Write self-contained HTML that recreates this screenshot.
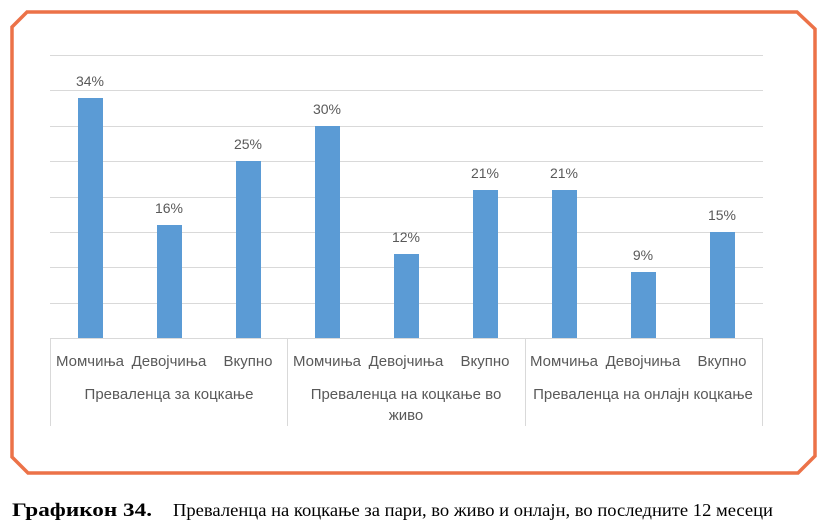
<!DOCTYPE html>
<html><head><meta charset="utf-8"><style>
html,body{margin:0;padding:0;background:#fff;}
svg{display:block;}
</style></head><body>
<svg width="826" height="529" viewBox="0 0 826 529" xmlns="http://www.w3.org/2000/svg">
<polygon points="27,12 797,12 815,29 815,456 798,473 28,473 12,457 12,27" fill="#fff" stroke="#EC7248" stroke-width="3.5"/>
<g stroke="#d9d9d9" stroke-width="1">
<line x1="50" x2="763" y1="55.5" y2="55.5"/>
<line x1="50" x2="763" y1="90.5" y2="90.5"/>
<line x1="50" x2="763" y1="126.5" y2="126.5"/>
<line x1="50" x2="763" y1="161.5" y2="161.5"/>
<line x1="50" x2="763" y1="197.5" y2="197.5"/>
<line x1="50" x2="763" y1="232.5" y2="232.5"/>
<line x1="50" x2="763" y1="267.5" y2="267.5"/>
<line x1="50" x2="763" y1="303.5" y2="303.5"/>
<line x1="50" x2="763" y1="338.5" y2="338.5"/>
<line x1="50.5" x2="50.5" y1="338" y2="426"/>
<line x1="287.5" x2="287.5" y1="338" y2="426"/>
<line x1="525.5" x2="525.5" y1="338" y2="426"/>
<line x1="762.5" x2="762.5" y1="338" y2="426"/>
</g>
<g fill="#5B9BD5">
<rect x="78" y="98" width="25" height="240"/>
<rect x="157" y="225" width="25" height="113"/>
<rect x="236" y="161" width="25" height="177"/>
<rect x="315" y="126" width="25" height="212"/>
<rect x="394" y="254" width="25" height="84"/>
<rect x="473" y="190" width="25" height="148"/>
<rect x="552" y="190" width="25" height="148"/>
<rect x="631" y="272" width="25" height="66"/>
<rect x="710" y="232" width="25" height="106"/>
</g>
<g font-family="Liberation Sans, DejaVu Sans, sans-serif" font-size="14" fill="#595959" text-anchor="middle">
<text x="90" y="86">34%</text>
<text x="169" y="213">16%</text>
<text x="248" y="149">25%</text>
<text x="327" y="114">30%</text>
<text x="406" y="242">12%</text>
<text x="485" y="178">21%</text>
<text x="564" y="178">21%</text>
<text x="643" y="260">9%</text>
<text x="722" y="220">15%</text>
</g>
<g font-family="Liberation Sans, DejaVu Sans, sans-serif" font-size="15" fill="#595959" text-anchor="middle">
<text x="90" y="366">Момчиња</text>
<text x="169" y="366">Девојчиња</text>
<text x="248" y="366">Вкупно</text>
<text x="327" y="366">Момчиња</text>
<text x="406" y="366">Девојчиња</text>
<text x="485" y="366">Вкупно</text>
<text x="564" y="366">Момчиња</text>
<text x="643" y="366">Девојчиња</text>
<text x="722" y="366">Вкупно</text>
<text x="169" y="399">Преваленца за коцкање</text>
<text x="406" y="399">Преваленца на коцкање во</text>
<text x="406" y="420">живо</text>
<text x="643" y="399">Преваленца на онлајн коцкање</text>
</g>
<text x="12" y="516" font-family="Liberation Serif, serif" font-size="19" font-weight="bold" fill="#000" textLength="140" lengthAdjust="spacingAndGlyphs">Графикон 34.</text>
<text x="173" y="516" font-family="Liberation Serif, serif" font-size="18" fill="#000" textLength="600" lengthAdjust="spacingAndGlyphs">Преваленца на коцкање за пари, во живо и онлајн, во последните 12 месеци</text>
</svg>
</body></html>
